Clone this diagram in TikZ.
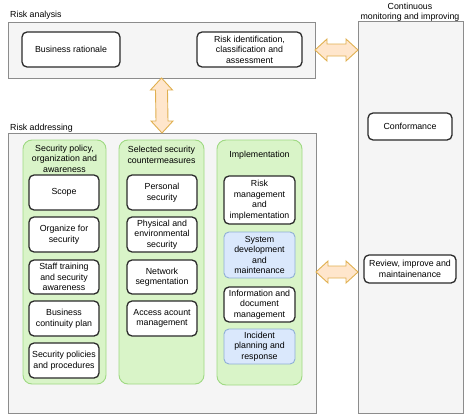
\documentclass[tikz,border=0pt]{standalone}
\usepackage{fontspec}
\setmainfont{Liberation Sans}
\usetikzlibrary{calc}
\definecolor{outerfill}{HTML}{F5F5F5}
\definecolor{outerdraw}{HTML}{8C8C8C}
\definecolor{grpfill}{HTML}{D9F4C8}
\definecolor{grpdraw}{HTML}{9FD983}
\definecolor{bluefill}{HTML}{DAE8FC}
\definecolor{bluedraw}{HTML}{8FAFD6}
\definecolor{arrfill}{HTML}{FFE6CC}
\definecolor{arrdraw}{HTML}{E0B050}
\definecolor{itemdraw}{HTML}{2B2B2B}
\tikzset{
  base/.style={anchor=north west, inner sep=0pt, outer sep=0pt, align=center,
    font=\fontsize{8.8}{10.5}\selectfont},
  outerbox/.style={base, draw=outerdraw, fill=outerfill, line width=0.8pt},
  grpbox/.style={base, draw=grpdraw, fill=grpfill, line width=0.9pt, rounded corners=9pt},
  itembox/.style={base, draw=itemdraw, fill=white, line width=1.3pt, rounded corners=5pt},
  bluebox/.style={itembox, draw=bluedraw, fill=bluefill, line width=0.9pt},
  lbl/.style={inner sep=0pt, align=center, font=\fontsize{8.8}{10.5}\selectfont},
  dblarrow/.style={draw=arrdraw, fill=arrfill, line width=0.9pt, line join=miter},
}
\newcommand{\harrow}[2]{%
  \path[dblarrow] (#1) -- ($(#1)+(12,-11)$) -- ($(#1)+(12,-6)$) -- ($(#2)+(-12,-6)$)
    -- ($(#2)+(-12,-11)$) -- (#2) -- ($(#2)+(-12,11)$) -- ($(#2)+(-12,6)$)
    -- ($(#1)+(12,6)$) -- ($(#1)+(12,11)$) -- cycle;}
\newcommand{\varrow}[2]{%
  \path[dblarrow] (#1) -- ($(#1)+(-11,12)$) -- ($(#1)+(-6,12)$) -- ($(#2)+(-6,-12)$)
    -- ($(#2)+(-11,-12)$) -- (#2) -- ($(#2)+(11,-12)$) -- ($(#2)+(6,-12)$)
    -- ($(#1)+(6,12)$) -- ($(#1)+(11,12)$) -- cycle;}
\begin{document}
\begin{tikzpicture}[x=1pt,y=-1pt]
\useasboundingbox (0,0) rectangle (474,415);

% outer containers
\node[outerbox, minimum width=307pt, minimum height=56pt] (ra) at (8,22) {};
\node[outerbox, minimum width=105pt, minimum height=392pt] (cm) at (358,21) {};
\node[outerbox, minimum width=308pt, minimum height=280pt] (radd) at (8,133) {};

% container labels
\node[lbl, anchor=west] (lra) at (10,15) {Risk analysis};
\node[lbl, anchor=west] (lradd) at (10,128) {Risk addressing};
\node[lbl] (lcm) at (410,12) {Continuous\\monitoring and improving};

% risk analysis items
\node[itembox, minimum width=98pt, minimum height=35pt] (br) at (22,32) {Business rationale};
\node[itembox, minimum width=105pt, minimum height=35pt] (rid) at (197,32) {Risk identification,\\classification and\\assessment};

% monitoring items
\node[itembox, minimum width=84pt, minimum height=27pt] (conf) at (368,113) {Conformance};
\node[itembox, minimum width=92pt, minimum height=28pt] (rev) at (364,255) {Review, improve and\\maintainenance};

% groups
\node[grpbox, minimum width=83pt, minimum height=244pt] (g1) at (23,140) {};
\node[grpbox, minimum width=85pt, minimum height=244pt] (g2) at (119,140) {};
\node[grpbox, minimum width=85pt, minimum height=245pt] (g3) at (217,140) {};
\node[lbl] (t1) at (64.5,158.5) {Security policy,\\organization and\\awareness};
\node[lbl] (t2) at (161.5,155) {Selected security\\countermeasures};
\node[lbl] (t3) at (259.5,155) {Implementation};

% column 1
\node[itembox, minimum width=70pt, minimum height=35pt] (scope) at (29,175) {Scope};
\node[itembox, minimum width=70pt, minimum height=35pt] (org) at (29,217) {Organize for\\security};
\node[itembox, minimum width=70pt, minimum height=34pt] (staff) at (29,260) {Staff training\\and security\\awareness};
\node[itembox, minimum width=70pt, minimum height=35pt] (bcp) at (29,301) {Business\\continuity plan};
\node[itembox, minimum width=70pt, minimum height=35pt] (spp) at (29,343) {Security policies\\and procedures};

% column 2
\node[itembox, minimum width=70pt, minimum height=35pt] (ps) at (127,175) {Personal\\security};
\node[itembox, minimum width=70pt, minimum height=35pt] (pe) at (127,217) {Physical and\\environmental\\security};
\node[itembox, minimum width=70pt, minimum height=34pt] (ns) at (127,260) {Network\\segmentation};
\node[itembox, minimum width=70pt, minimum height=35pt] (aam) at (127,301) {Access acount\\management};

% column 3
\node[itembox, minimum width=71pt, minimum height=48pt] (rm) at (224,176) {Risk\\management\\and\\implementation};
\node[bluebox, minimum width=71pt, minimum height=46pt] (sd) at (224,232) {System\\development\\and\\maintenance};
\node[itembox, minimum width=71pt, minimum height=35pt] (idm) at (224,287) {Information and\\document\\management};
\node[bluebox, minimum width=71pt, minimum height=35pt] (ipr) at (224,329) {Incident\\planning and\\response};

% double arrows
\coordinate (a1s) at (ra.east |- 0,50);
\coordinate (a1e) at (cm.west |- 0,50);
\harrow{a1s}{a1e}
\coordinate (a2s) at (ra.south);
\coordinate (a2e) at (radd.north);
\varrow{a2s}{a2e}
\coordinate (a3s) at (radd.east |- 0,272);
\coordinate (a3e) at (cm.west |- 0,272);
\harrow{a3s}{a3e}
\end{tikzpicture}
\end{document}
